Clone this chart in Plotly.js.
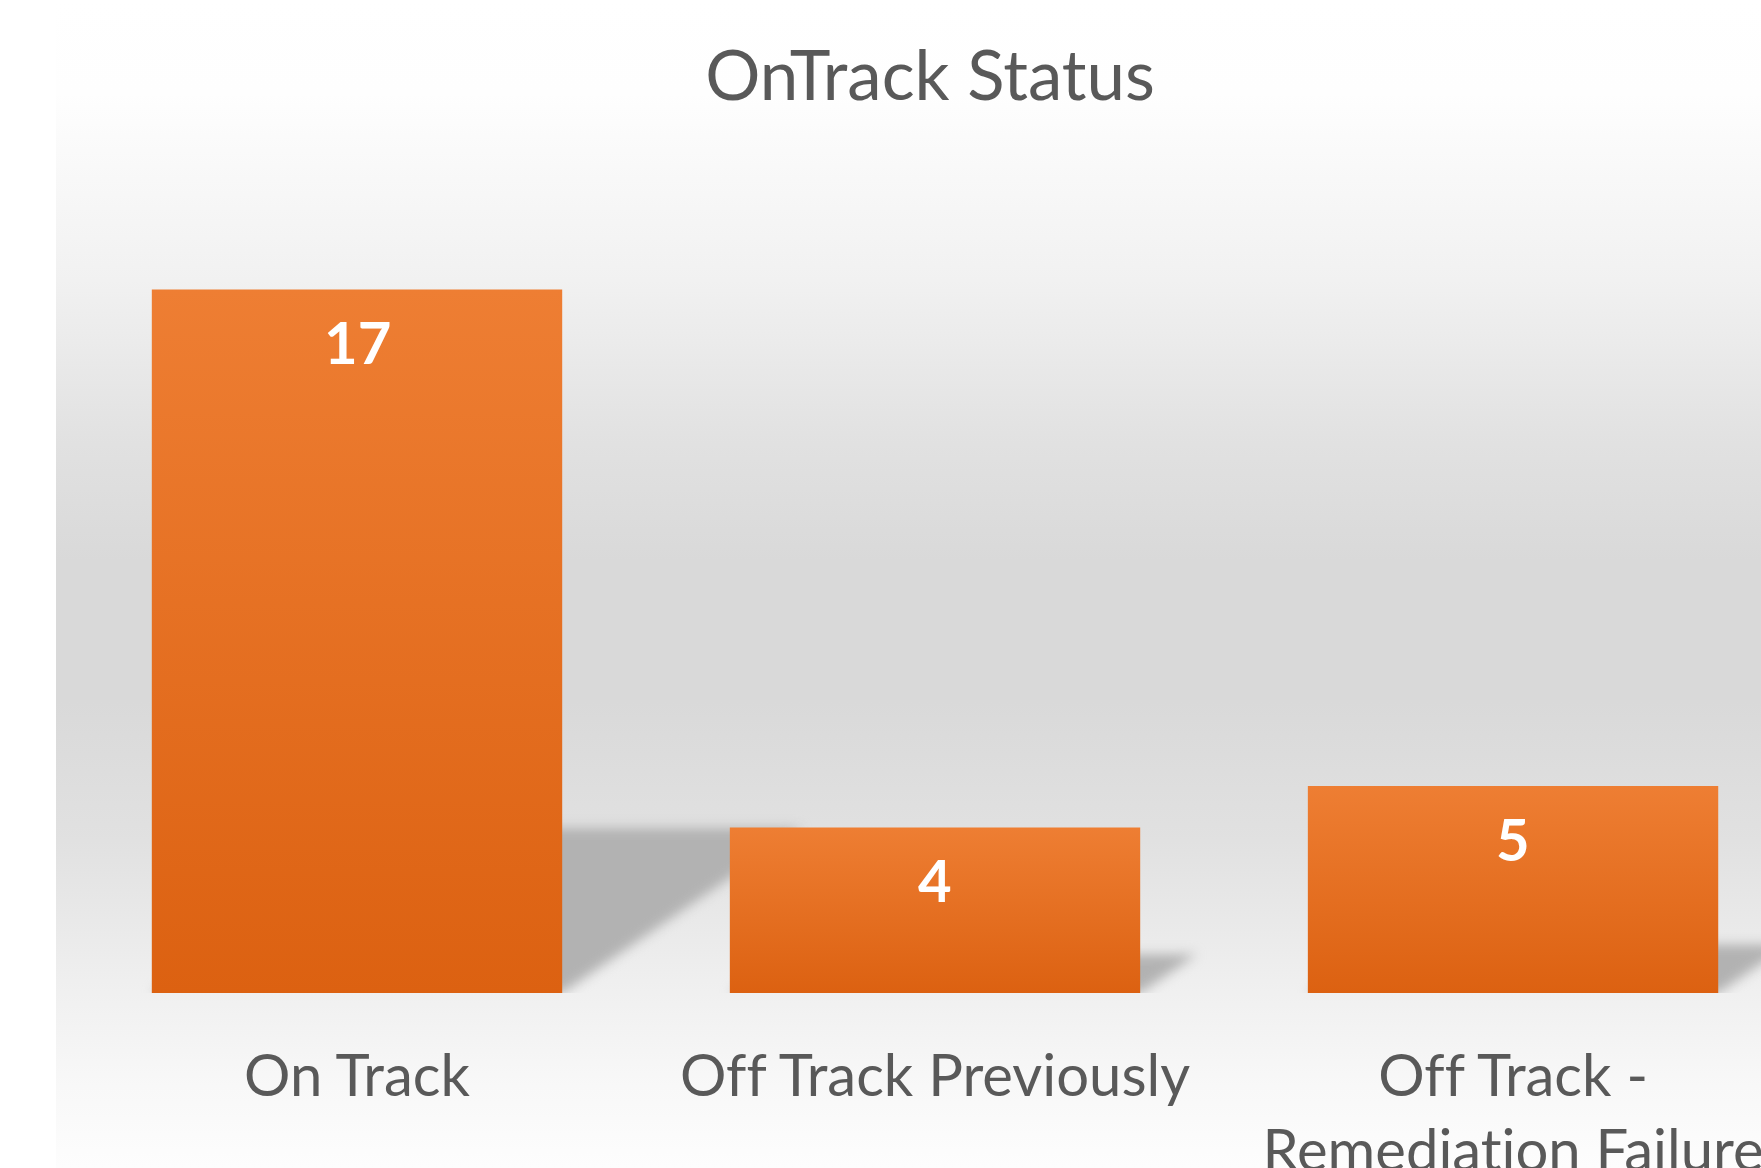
<!DOCTYPE html>
<html><head><meta charset="utf-8">
<script src="https://cdn.plot.ly/plotly-3.0.1.min.js"></script>
<style>
html,body{margin:0;padding:0;background:#fff;overflow:hidden}
#wrap{position:relative;width:1761px;height:1168px;background:#fff}
#panel{position:absolute;left:56px;top:0;right:0;bottom:0;
 background:linear-gradient(to bottom,#ffffff 0%,#fefefe 8%,#f1f1f1 24%,#e1e1e1 38%,#d9d9d9 48%,#d9d9d9 60%,#e1e1e1 72%,#efefef 84%,#f8f8f8 93%,#fdfdfd 100%)}
#chart{position:absolute;left:0;top:0;width:1761px;height:1168px}
#chart text{font-variant-ligatures:none !important;font-feature-settings:"liga" 0,"clig" 0 !important}
</style></head>
<body><div id="wrap"><div id="panel"></div><div id="chart"></div></div>
<script>
const categories = ['On Track', 'Off Track Previously', 'Off Track - Remediation Failure'];
const counts = [17, 4, 5];
const tickLabels = ['On Track', 'Off Track Previously', 'Off Track -<br>Remediation Failure'];
const chartTitle = 'OnTrack Status';

const xPos = categories.map((c, i) => i);
const barWidth = 0.71;
const shadowRise = 0.234;   // shadow height as share of bar value
const shadowSkew = 0.0244;  // shadow horizontal skew per unit value (x units)

const shapes = counts.map((v, i) => {
  const x0 = i - barWidth / 2, x1 = i + barWidth / 2;
  const h = v * shadowRise, s = v * shadowSkew;
  return {
    type: 'path', xref: 'x', yref: 'y', layer: 'below',
    path: `M ${x0} 0 L ${x1} 0 L ${x1 + s} ${h} L ${x0 + s} ${h} Z`,
    fillcolor: '#b2b2b2', line: {width: 0}
  };
});

const annotations = counts.map((v, i) => ({
  x: i, y: v, xref: 'x', yref: 'y', text: String(v), showarrow: false,
  yshift: -52, yanchor: 'middle',
  font: {family: 'Lato, sans-serif', size: 58, color: '#ffffff', weight: 700}
}));

const trace = {
  type: 'bar', x: xPos, y: counts, width: barWidth,
  marker: {color: '#ED7D31', line: {width: 0}},
  hoverinfo: 'skip', textposition: 'none'
};

const layout = {
  width: 1761, height: 1168,
  margin: {l: 68, r: 0, t: 248, b: 175},
  paper_bgcolor: 'rgba(0,0,0,0)', plot_bgcolor: 'rgba(0,0,0,0)',
  showlegend: false,
  title: {text: chartTitle, x: 930 / 1761, xref: 'container', xanchor: 'center',
          y: 1 - 76 / 1168, yref: 'container', yanchor: 'middle',
          font: {family: 'Lato, sans-serif', size: 69, color: '#595959'}},
  xaxis: {range: [-0.5, 2.429], tickvals: xPos, ticktext: tickLabels,
          showgrid: false, zeroline: false, showline: false, ticks: '',
          tickfont: {family: 'Lato, sans-serif', size: 58, color: '#595959'},
          ticklabelstandoff: 44, ticklabeloverflow: 'allow', automargin: false, fixedrange: true},
  yaxis: {range: [0, 18], visible: false, showgrid: false, zeroline: false, fixedrange: true},
  shapes: shapes, annotations: annotations
};

Plotly.newPlot('chart', [trace], layout, {displayModeBar: false, staticPlot: true}).then(gd => {
  const svg = gd.querySelector('svg.main-svg');
  const NS = 'http://www.w3.org/2000/svg';
  let defs = svg.querySelector('defs');
  if (!defs) { defs = document.createElementNS(NS, 'defs'); svg.insertBefore(defs, svg.firstChild); }
  const grad = document.createElementNS(NS, 'linearGradient');
  grad.setAttribute('id', 'barGrad');
  grad.setAttribute('x1', '0'); grad.setAttribute('y1', '0');
  grad.setAttribute('x2', '0'); grad.setAttribute('y2', '1');
  [['0%', '#EE7E33'], ['100%', '#DC6111']].forEach(([o, c]) => {
    const st = document.createElementNS(NS, 'stop');
    st.setAttribute('offset', o); st.setAttribute('stop-color', c);
    grad.appendChild(st);
  });
  defs.appendChild(grad);
  const filt = document.createElementNS(NS, 'filter');
  filt.setAttribute('id', 'shadowBlur');
  filt.setAttribute('filterUnits', 'userSpaceOnUse');
  filt.setAttribute('x', '0'); filt.setAttribute('y', '0');
  filt.setAttribute('width', '1761'); filt.setAttribute('height', '1168');
  const blur = document.createElementNS(NS, 'feGaussianBlur');
  blur.setAttribute('stdDeviation', '6');
  filt.appendChild(blur);
  defs.appendChild(filt);
  gd.querySelectorAll('.barlayer .point path').forEach(p => { p.style.fill = 'url(#barGrad)'; });
  gd.querySelectorAll('.shapelayer path').forEach(p => {
    p.setAttribute('filter', 'url(#shadowBlur)');
    p.style.filter = 'blur(6px)';
  });
});
</script>
</body></html>
